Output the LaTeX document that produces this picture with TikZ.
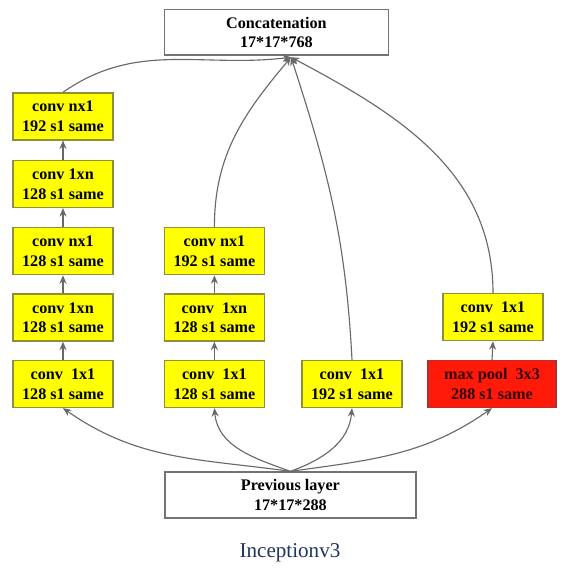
\documentclass[tikz,border=0pt]{standalone}
\usepackage{fontspec}
\setmainfont{Liberation Serif}
\usepackage{xcolor}
\usetikzlibrary{arrows.meta, positioning}
\definecolor{convfill}{HTML}{FFFF00}
\definecolor{convdraw}{HTML}{8F8F3A}
\definecolor{poolfill}{HTML}{FF1A0A}
\definecolor{pooldraw}{HTML}{B03030}
\definecolor{linkgray}{HTML}{686868}
\definecolor{titleblue}{HTML}{1F3560}

\begin{document}
\begin{tikzpicture}[
  conv/.style={rectangle, draw=convdraw, fill=convfill, line width=0.9pt,
               minimum width=2.5cm, minimum height=1.175cm, inner sep=1pt,
               font=\fontsize{11.5}{14}\selectfont\bfseries, align=center},
  pool/.style={conv, draw=pooldraw, fill=poolfill, minimum width=3.2cm,
               text=black!80!red},
  layer/.style={rectangle, draw=black!55, fill=white, line width=0.9pt,
               minimum width=5.6cm, minimum height=1.13cm, inner sep=1pt,
               font=\fontsize{11.5}{14}\selectfont\bfseries, align=center},
  arr/.style={-{Stealth[length=6pt,width=5pt]}, draw=linkgray, line width=0.8pt}
]
\useasboundingbox (0,0) rectangle (14.3,-14.475);

% Top
\node[layer] (concat) at (6.91,-0.81) {Concatenation\\17*17*768};
\coordinate (cin) at (7.275,-1.43);

% Branch 1
\node[conv] (c11) at (1.575,-9.6)  {conv\ \ 1x1\\128 s1 same};
\node[conv] (c12) at (1.575,-7.94) {conv 1xn\\128 s1 same};
\node[conv] (c13) at (1.575,-6.28) {conv nx1\\128 s1 same};
\node[conv] (c14) at (1.575,-4.6)  {conv 1xn\\128 s1 same};
\node[conv] (c15) at (1.575,-2.91) {conv nx1\\192 s1 same};

% Branch 2
\node[conv] (c21) at (5.36,-9.6)  {conv\ \ 1x1\\128 s1 same};
\node[conv] (c22) at (5.36,-7.94) {conv\ \ 1xn\\128 s1 same};
\node[conv] (c23) at (5.36,-6.28) {conv nx1\\192 s1 same};

% Branch 3
\node[conv] (c31) at (8.8,-9.6) {conv\ \ 1x1\\192 s1 same};

% Branch 4
\node[pool] (pool) at (12.3,-9.6) {max pool\ \ 3x3\\288 s1 same};
\node[conv] (c41) at (12.325,-7.93) {conv\ \ 1x1\\192 s1 same};

% Bottom
\node[layer, minimum width=6.275cm, minimum height=1.15cm] (prev) at (7.26,-12.375)
      {Previous layer\\17*17*288};
\node[text=titleblue, font=\fontsize{15}{18}\selectfont] (title) at (7.25,-13.83) {Inceptionv3};

% Arrows
\draw[arr] (prev.north) to[out=172,in=-35] (c11.south);
\draw[arr] (prev.north) to[out=160,in=-85] (c21.south);
\draw[arr] (prev.north) to[out=20,in=-95] (c31.south);
\draw[arr] (prev.north) to[out=8,in=-145] (pool.south);
\foreach \a/\b in {c11/c12, c12/c13, c13/c14, c14/c15, c21/c22, c22/c23, pool/c41}
  \draw[arr] (\a.north) -- (\b.south);
\draw[arr] (c15.north) to[out=35,in=187] (cin);
\draw[arr] (c23.north) to[out=90,in=-130] (cin);
\draw[arr] (c31.north) to[out=93,in=-72] (cin);
\draw[arr] (c41.north) to[out=90,in=-28] (cin);
\end{tikzpicture}
\end{document}
